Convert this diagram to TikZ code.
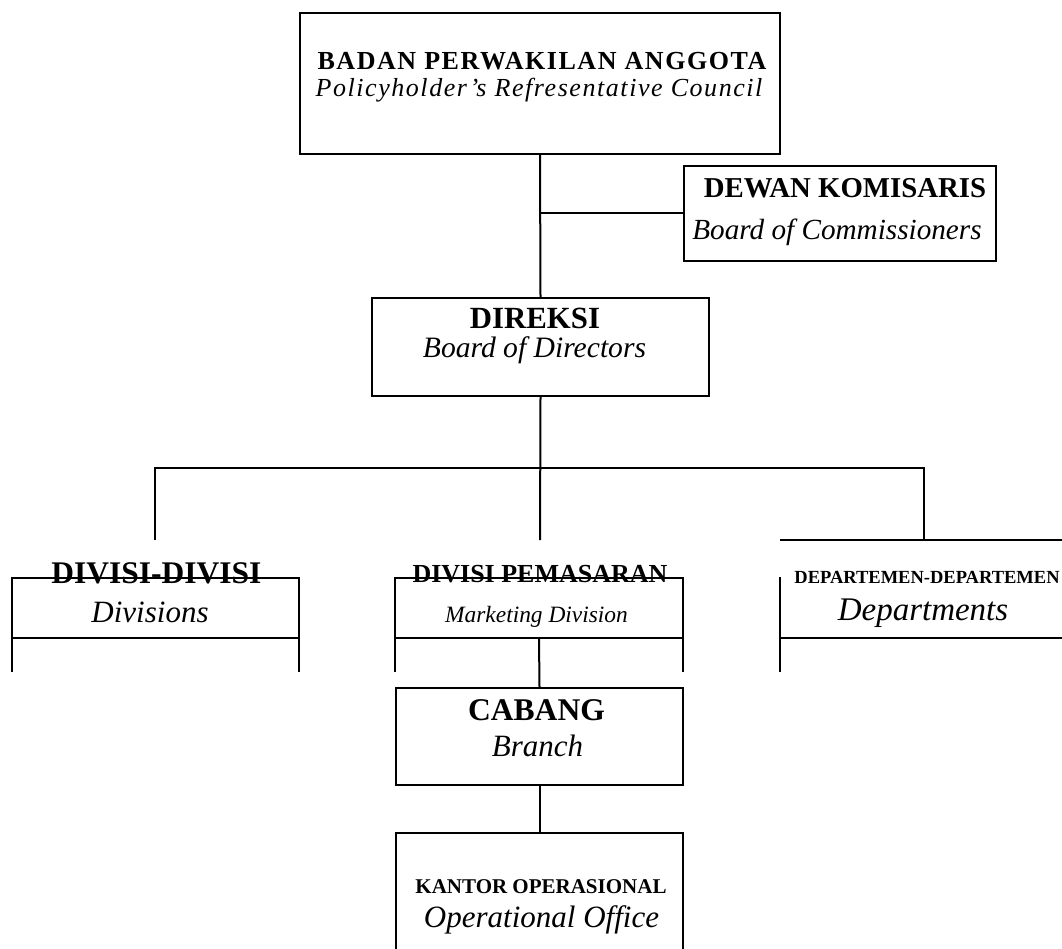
\documentclass[tikz,border=0pt]{standalone}
\usepackage{fontspec}
\setmainfont{Liberation Serif}
\usetikzlibrary{positioning,calc}

\begin{document}
\begin{tikzpicture}[x=1pt, y=-1pt,
  orgbox/.style={draw, line width=2pt, inner sep=0pt},
  openbox/.style={inner sep=0pt},
  conn/.style={line width=2pt},
  headtxt/.style={anchor=base, inner sep=0pt, font=\bfseries\fontsize{#1}{#1}\selectfont},
  subtxt/.style={anchor=base, inner sep=0pt, font=\itshape\fontsize{#1}{#1}\selectfont}
]
\useasboundingbox (0,0) rectangle (1062,949);

% boxes
\node[orgbox, minimum width=480pt, minimum height=141pt] (bpa) at (540,83.5) {};
\node[orgbox, minimum width=312pt, minimum height=95pt] (dk) at (840,213.5) {};
\node[orgbox, minimum width=337pt, minimum height=98pt] (dir) at (540.5,347) {};
\node[openbox, minimum width=287pt, minimum height=60pt] (div) at (155.5,608) {};
\node[openbox, minimum width=288pt, minimum height=60pt] (mkt) at (539,608) {};
\node[openbox, minimum width=282pt, minimum height=98pt] (dep) at (921,589) {};
\node[orgbox, minimum width=287pt, minimum height=97pt] (cab) at (539.5,736.5) {};
\node[openbox, minimum width=287pt, minimum height=116pt] (ko) at (539.5,891) {};

% open frames
\draw[conn] ([yshift=-34pt]div.south west) -- (div.north west) -- (div.north east) -- ([yshift=-34pt]div.south east);
\draw[conn] (div.south west) -- (div.south east);
\draw[conn] ([yshift=-34pt]mkt.south west) -- (mkt.north west) -- (mkt.north east) -- ([yshift=-34pt]mkt.south east);
\draw[conn] (mkt.south west) -- (mkt.south east);
\draw[conn] (dep.north west) -- (dep.north east);
\draw[conn] ([yshift=-37pt]dep.north west) -- ([yshift=-34pt]dep.south west);
\draw[conn] (dep.south west) -- (dep.south east);
\draw[conn] (ko.south west) -- (ko.north west) -- (ko.north east) -- (ko.south east);

% texts
\node[headtxt=26] (bpaT) at (542,70) {\addfontfeature{LetterSpace=6}BADAN PERWAKILAN ANGGOTA};
\node[subtxt=26] (bpaS) at (539,97) {\addfontfeature{LetterSpace=6}Policyholder’s Refresentative Council};
\node[headtxt=28.8] (dkT) at (845,198) {DEWAN KOMISARIS};
\node[subtxt=29.2] (dkS) at (837,240) {Board of Commissioners};
\node[headtxt=30.8] (dirT) at (535,328) {DIREKSI};
\node[subtxt=29.6] (dirS) at (534.5,357) {Board of Directors};
\node[headtxt=31.5] (divT) at (156.5,583) {DIVISI-DIVISI};
\node[subtxt=31] (divS) at (150,622) {Divisions};
\node[headtxt=26] (mktT) at (540,582) {DIVISI PEMASARAN};
\node[subtxt=23.4] (mktS) at (536.5,622) {Marketing Division};
\node[headtxt=18.5] (depT) at (927,583) {DEPARTEMEN-DEPARTEMEN};
\node[subtxt=33] (depS) at (923,620) {Departments};
\node[headtxt=31.6] (cabT) at (536.5,720) {CABANG};
\node[subtxt=31] (cabS) at (537.5,756) {Branch};
\node[headtxt=21] (koT) at (541,893) {KANTOR OPERASIONAL};
\node[subtxt=31] (koS) at (541.5,927) {Operational Office};

% connectors
\coordinate (dkjoin) at (bpa.south |- dk.west);
\coordinate (busL) at (155,468);
\coordinate (busR) at (924,468);
\coordinate (dropL) at (155,540);
\coordinate (dropM) at (540,540);
\coordinate (dropR) at (924,540);
\draw[conn] (bpa.south) -- (dir.north);
\draw[conn] (dkjoin) -- (dk.west);
\draw[conn] (dir.south) -- (dropM);
\draw[conn] (dropL) -- (busL) -- (busR) -- (dropR);
\draw[conn] (mkt.south) -- (cab.north);
\draw[conn] (cab.south) -- (ko.north);
\end{tikzpicture}
\end{document}
